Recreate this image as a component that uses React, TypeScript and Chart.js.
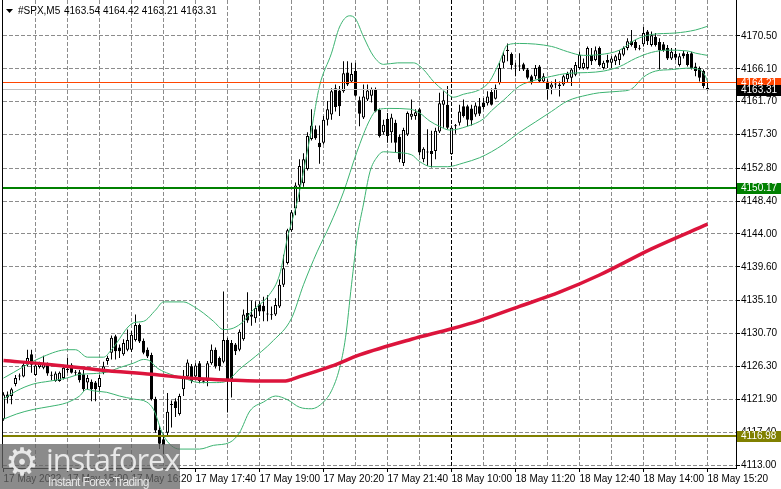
import React, { useEffect, useRef } from 'react';
import { Chart, registerables } from 'chart.js';
Chart.register(...registerables);

// ---------- DATA ----------
const SYMBOL = '#SPX,M5';
const TIME_LABELS = ['17 May 2022', '17 May 15:00', '17 May 16:20', '17 May 17:40', '17 May 19:00', '17 May 20:20', '17 May 21:40', '18 May 10:00', '18 May 11:20', '18 May 12:40', '18 May 14:00', '18 May 15:20'];
const PRICE_TICKS = [4113.0, 4117.4, 4121.9, 4126.3, 4130.7, 4135.1, 4139.6, 4144.0, 4148.4, 4152.8, 4157.3, 4161.7, 4166.1, 4170.5];
const SEPARATOR_BAR = 112;
const OLIVE_LEVEL = 4116.98;
const GREEN_LEVEL = 4150.17;
const ASK_LEVEL = 4164.21;
const BID_LEVEL = 4163.31;

const OPEN = [
  4119.2, 4122.5, 4122.3, 4123.9, 4124.9, 4124.9, 4126.5, 4127.9, 4125.1, 4126.2,
  4126.1, 4126.6, 4125.1, 4124.3, 4124.3, 4124.7, 4125.8, 4126.5, 4125.5, 4125.5,
  4125.2, 4124.1, 4124.2, 4124.1, 4123.5, 4125.4, 4127.0, 4128.1, 4130.3, 4128.8,
  4127.9, 4128.5, 4128.5, 4129.8, 4131.8, 4129.7, 4128.5, 4127.8, 4121.9, 4117.8,
  4116.5, 4117.4, 4121.1, 4121.6, 4119.9, 4123.2, 4124.9, 4126.3, 4124.9, 4126.7,
  4124.3, 4124.3, 4126.7, 4128.5, 4127.4, 4126.9, 4129.8, 4129.4, 4129.2, 4128.5,
  4129.9, 4133.4, 4133.2, 4132.7, 4134.6, 4134.4, 4133.2, 4133.1, 4133.2, 4134.3,
  4137.2, 4140.1, 4144.5, 4147.4, 4150.5, 4150.8, 4152.7, 4156.7, 4158.0, 4156.2,
  4156.2, 4159.3, 4160.0, 4163.5, 4163.2, 4163.1, 4165.6, 4164.4, 4165.8, 4161.9,
  4159.6, 4162.0, 4162.5, 4163.4, 4160.6, 4157.6, 4159.4, 4157.6, 4158.9, 4157.0,
  4153.5, 4157.3, 4159.7, 4159.8, 4160.7, 4154.0, 4155.0, 4155.1, 4155.1, 4157.7,
  4161.3, 4161.3, 4154.7, 4158.4, 4158.9, 4161.1, 4161.1, 4160.8, 4160.0, 4161.1,
  4161.6, 4161.5, 4163.0, 4162.1, 4164.2, 4166.9, 4168.6, 4168.1, 4166.5, 4166.4,
  4166.7, 4166.0, 4165.1, 4165.1, 4166.4, 4164.4, 4164.4, 4163.6, 4164.0, 4164.0,
  4164.0, 4164.7, 4164.9, 4165.3, 4166.2, 4166.2, 4166.2, 4168.0, 4167.3, 4168.9,
  4166.2, 4167.3, 4166.9, 4167.1, 4167.3, 4168.0, 4168.9, 4169.8, 4169.7, 4168.9,
  4169.4, 4171.1, 4169.3, 4170.4, 4169.7, 4169.4, 4168.9, 4167.5, 4168.1, 4166.6,
  4168.2, 4168.1, 4168.2, 4166.4, 4166.2, 4165.8, 4163.54
];
const HIGH = [
  4122.8, 4122.9, 4123.4, 4125.1, 4125.3, 4127.0, 4128.5, 4128.5, 4126.7, 4126.9,
  4127.7, 4126.8, 4125.6, 4125.6, 4125.6, 4126.5, 4127.4, 4126.7, 4125.8, 4125.8,
  4125.8, 4125.1, 4124.5, 4124.3, 4125.1, 4126.9, 4127.7, 4130.4, 4130.5, 4129.2,
  4129.9, 4131.2, 4131.0, 4133.2, 4132.0, 4130.0, 4128.8, 4128.1, 4122.2, 4118.3,
  4117.2, 4122.7, 4121.7, 4122.0, 4122.6, 4125.8, 4127.2, 4126.6, 4126.7, 4127.0,
  4124.7, 4127.0, 4129.2, 4128.8, 4127.6, 4136.3, 4130.1, 4129.8, 4129.4, 4131.2,
  4133.9, 4136.2, 4135.1, 4135.0, 4135.0, 4135.6, 4135.8, 4134.3, 4135.4, 4137.9,
  4141.2, 4144.7, 4147.2, 4150.9, 4154.0, 4154.8, 4157.6, 4160.7, 4158.5, 4158.5,
  4159.8, 4161.8, 4163.5, 4164.0, 4163.8, 4167.1, 4167.1, 4166.9, 4166.9, 4162.4,
  4164.0, 4164.0, 4163.6, 4163.6, 4160.8, 4159.3, 4160.2, 4160.1, 4159.3, 4157.3,
  4158.2, 4160.4, 4162.0, 4160.7, 4160.9, 4155.6, 4158.0, 4157.8, 4158.2, 4162.9,
  4163.1, 4163.8, 4158.5, 4158.7, 4161.3, 4162.0, 4161.3, 4161.3, 4161.6, 4162.2,
  4162.2, 4163.1, 4163.5, 4164.0, 4166.9, 4168.4, 4169.5, 4168.3, 4166.9, 4168.2,
  4166.9, 4166.2, 4165.3, 4166.6, 4166.6, 4165.5, 4164.7, 4164.4, 4164.7, 4164.4,
  4165.3, 4165.7, 4166.2, 4167.0, 4168.4, 4167.5, 4169.1, 4168.9, 4169.1, 4169.1,
  4167.2, 4168.0, 4167.8, 4168.0, 4168.6, 4169.1, 4170.2, 4171.3, 4170.0, 4169.3,
  4171.7, 4171.3, 4171.1, 4170.9, 4170.2, 4169.7, 4169.3, 4168.9, 4168.9, 4168.2,
  4168.5, 4168.4, 4168.4, 4166.9, 4166.4, 4166.0, 4164.42
];
const LOW = [
  4119.0, 4121.3, 4121.2, 4123.6, 4124.4, 4124.8, 4126.3, 4125.4, 4125.0, 4126.0,
  4125.9, 4125.0, 4124.4, 4124.2, 4124.2, 4124.5, 4125.4, 4125.3, 4125.0, 4124.1,
  4123.0, 4123.2, 4121.6, 4121.6, 4123.0, 4125.2, 4126.5, 4127.2, 4127.2, 4127.4,
  4127.7, 4128.3, 4128.2, 4129.6, 4129.4, 4127.9, 4127.4, 4121.7, 4117.4, 4115.2,
  4114.5, 4117.0, 4118.1, 4119.5, 4119.7, 4122.3, 4124.7, 4124.0, 4124.6, 4124.0,
  4124.0, 4123.6, 4126.5, 4126.0, 4125.7, 4126.7, 4120.1, 4122.1, 4127.8, 4128.3,
  4129.7, 4132.1, 4131.7, 4132.1, 4133.0, 4132.3, 4132.3, 4132.5, 4133.0, 4134.1,
  4136.9, 4139.9, 4144.3, 4146.5, 4148.3, 4150.3, 4152.5, 4156.5, 4156.6, 4153.4,
  4156.0, 4158.5, 4159.3, 4160.4, 4159.8, 4162.9, 4163.8, 4164.2, 4162.4, 4158.4,
  4159.4, 4161.8, 4161.6, 4160.3, 4156.9, 4157.3, 4156.2, 4156.2, 4154.9, 4153.6,
  4153.1, 4157.1, 4159.3, 4159.3, 4154.5, 4153.6, 4153.1, 4152.9, 4154.0, 4157.5,
  4158.2, 4158.0, 4154.6, 4157.4, 4158.5, 4159.6, 4158.4, 4158.5, 4159.7, 4159.8,
  4160.7, 4161.2, 4161.2, 4162.0, 4164.0, 4166.2, 4167.1, 4166.0, 4165.1, 4165.8,
  4165.8, 4164.7, 4164.0, 4164.7, 4164.2, 4164.2, 4162.0, 4162.7, 4163.5, 4162.4,
  4163.8, 4164.2, 4163.8, 4165.1, 4166.0, 4166.0, 4166.0, 4166.6, 4167.1, 4166.4,
  4166.0, 4166.2, 4166.2, 4166.6, 4166.6, 4167.8, 4168.6, 4169.1, 4168.6, 4168.6,
  4169.1, 4169.3, 4169.1, 4169.1, 4166.0, 4168.4, 4167.3, 4167.3, 4167.3, 4166.4,
  4167.5, 4166.4, 4166.0, 4165.1, 4164.4, 4163.5, 4163.21
];
const CLOSE = [
  4122.5, 4122.1, 4123.2, 4124.7, 4125.0, 4126.5, 4127.4, 4126.5, 4126.4, 4126.7,
  4126.7, 4125.3, 4125.0, 4125.3, 4125.4, 4126.1, 4125.9, 4125.4, 4125.4, 4124.4,
  4123.2, 4124.7, 4123.2, 4123.2, 4124.7, 4126.3, 4127.4, 4130.1, 4128.3, 4128.3,
  4129.4, 4129.8, 4130.5, 4131.8, 4129.6, 4128.1, 4127.6, 4121.9, 4117.7, 4115.9,
  4115.7, 4120.2, 4121.2, 4120.7, 4122.3, 4125.0, 4126.8, 4124.3, 4126.4, 4124.3,
  4124.2, 4126.7, 4128.5, 4126.3, 4126.3, 4129.8, 4124.3, 4124.5, 4128.3, 4130.9,
  4133.2, 4132.4, 4132.9, 4134.1, 4133.6, 4133.6, 4133.3, 4133.2, 4134.5, 4137.2,
  4139.4, 4144.5, 4146.9, 4150.5, 4153.1, 4154.0, 4157.1, 4158.5, 4156.8, 4155.6,
  4159.3, 4160.7, 4163.1, 4161.0, 4161.1, 4165.5, 4164.0, 4165.4, 4162.5, 4160.1,
  4162.4, 4163.2, 4163.4, 4160.4, 4157.1, 4158.6, 4157.1, 4159.6, 4156.2, 4154.0,
  4157.9, 4160.2, 4160.1, 4160.3, 4154.9, 4155.4, 4154.9, 4154.7, 4157.8, 4161.5,
  4161.9, 4158.2, 4158.2, 4158.5, 4160.4, 4159.8, 4159.3, 4159.2, 4161.2, 4160.1,
  4161.0, 4162.4, 4161.3, 4163.5, 4166.2, 4168.0, 4168.5, 4166.6, 4166.4, 4166.5,
  4166.0, 4164.9, 4164.2, 4166.2, 4164.4, 4165.1, 4163.3, 4164.0, 4164.1, 4163.8,
  4165.1, 4165.4, 4166.0, 4166.6, 4168.0, 4166.9, 4168.9, 4167.1, 4168.6, 4166.6,
  4166.9, 4166.9, 4167.5, 4167.8, 4168.2, 4168.9, 4169.8, 4169.3, 4168.9, 4168.8,
  4170.9, 4169.8, 4170.6, 4169.3, 4168.6, 4168.6, 4167.5, 4168.4, 4167.6, 4167.8,
  4167.8, 4166.6, 4166.2, 4165.8, 4164.9, 4163.8, 4163.31
];

// indicator readings: [bar index, price]
const MA_LINE: [number, number][] = [
  [0, 4127.05], [12, 4126.5], [24, 4125.8], [37, 4125.2], [49, 4124.6], [58, 4124.4], [64, 4124.3],
  [70, 4124.3], [74, 4124.9], [82, 4126.3], [89, 4127.8], [102, 4129.9], [112, 4131.3], [119, 4132.4],
  [129, 4134.3], [139, 4136.2], [149, 4138.5], [162, 4142.0], [176, 4145.3]
];
const BB_UPPER: [number, number][] = [
  [0, 4124.7], [10, 4127.6], [16, 4128.5], [18, 4128.5], [21, 4127.5], [25, 4127.5], [27, 4128.5],
  [32.5, 4132.1], [35, 4132.3], [38, 4133.8], [40, 4134.9], [45, 4134.9], [47.5, 4134.3], [50, 4133.4],
  [52.5, 4132.3], [55, 4131.2], [57.5, 4131.4], [60, 4132.3], [62, 4133.6], [66.5, 4135.9], [69, 4138.5],
  [71, 4143.5], [73.5, 4148.5], [77, 4158.0], [79, 4163.8], [82, 4168.2], [84, 4171.7], [86.5, 4173.2],
  [88, 4172.8], [90, 4170.4], [92.5, 4167.8], [95, 4166.7], [98.5, 4166.9], [102.5, 4166.9], [105, 4166.0],
  [107.5, 4164.4], [110, 4163.2], [112.5, 4162.3], [115, 4162.7], [119, 4163.3], [121.5, 4164.4],
  [124, 4167.0], [126, 4169.3], [129, 4169.5], [137, 4169.1], [141, 4168.4], [145, 4167.9], [149, 4168.0],
  [154, 4168.6], [158, 4170.0], [162, 4170.7], [168, 4170.9], [173, 4171.3], [176, 4171.8]
];
const BB_MIDDLE: [number, number][] = [
  [0, 4121.9], [3.3, 4123.0], [7.4, 4123.9], [11.6, 4124.3], [15.8, 4124.7], [19, 4125.2], [22.4, 4125.3],
  [25.8, 4125.5], [29, 4126.1], [32.5, 4126.7], [35, 4127.2], [36.6, 4127.0], [38.3, 4126.1], [40.8, 4125.4],
  [45, 4124.7], [49, 4124.1], [53.3, 4124.1], [55.8, 4124.3], [57.4, 4125.0], [59, 4125.9], [61.6, 4127.0],
  [67.5, 4129.75], [72, 4132.7], [75, 4137.2], [78.4, 4141.6], [81.6, 4145.2], [85, 4149.6], [88.3, 4154.9],
  [91.6, 4159.3], [93.4, 4160.6], [96.6, 4160.8], [101.6, 4160.7], [104, 4160.2], [106.6, 4159.1],
  [109, 4158.4], [111.6, 4157.9], [115.9, 4158.4], [120, 4159.4], [122, 4160.5], [125, 4161.9],
  [129, 4163.8], [133, 4164.6], [137, 4165.1], [141, 4165.5], [146, 4165.6], [150, 4165.8], [154, 4166.4],
  [158, 4167.5], [162, 4168.3], [166, 4168.6], [171, 4168.5], [173, 4168.2], [176, 4167.9]
];
const BB_LOWER: [number, number][] = [
  [0, 4119.2], [3.3, 4119.9], [7.4, 4120.5], [11.6, 4120.9], [15.8, 4121.4], [19, 4122.3], [20.8, 4123.2],
  [22.4, 4123.0], [25.8, 4122.8], [29, 4122.3], [32.5, 4121.9], [35.8, 4121.5], [37.5, 4120.5], [40, 4117.0],
  [44, 4115.2], [49, 4115.2], [52.5, 4115.7], [56.6, 4116.1], [59, 4117.4], [61.6, 4120.3], [65, 4121.5],
  [68, 4122.3], [71, 4121.8], [74, 4120.8], [77, 4120.6], [80, 4121.5], [82, 4123.0], [84, 4126.0],
  [85.5, 4130.1], [87, 4137.2], [88.5, 4143.8], [90, 4148.0], [91.6, 4152.3], [93.4, 4154.3], [95, 4155.0],
  [98, 4154.9], [102, 4154.6], [104, 4153.7], [107, 4153.0], [111, 4153.0], [115, 4153.5], [119, 4154.2],
  [122, 4155.0], [125, 4156.0], [129, 4157.6], [133, 4159.0], [137, 4160.4], [141, 4161.8], [146, 4162.6],
  [149, 4162.9], [154, 4163.1], [157, 4163.4], [160, 4165.0], [163, 4165.8], [167, 4166.0], [171, 4166.2],
  [174, 4166.0], [175.5, 4165.1], [176, 4164.4]
];

// ---------- LAYOUT ----------
const W = 781;
const H = 489;
const PLOT_LEFT = 3;
const AXIS_W = 45;
const AXIS_H = 21;
const BAR_PX = 4;
const X_MIN = -0.125;
const X_MAX = X_MIN + (W - AXIS_W - PLOT_LEFT) / BAR_PX;
const PX_PER_POINT = 7.47;
const Y_MIN = 4113.0 - 2.5 / PX_PER_POINT;
const Y_MAX = Y_MIN + (H - AXIS_H) / PX_PER_POINT;
const FONT = '"Liberation Sans", Arial, sans-serif';

const pts = (a: [number, number][]) => a.map(([x, y]) => ({ x, y }));

export default function App() {
  const ref = useRef<HTMLCanvasElement>(null);
  useEffect(() => {
    const canvas = ref.current;
    if (!canvas) return;
    const n = OPEN.length;
    const idx = OPEN.map((_, i) => i);
    const bodies = idx.map((i) => {
      const lo = Math.min(OPEN[i], CLOSE[i]);
      let hi = Math.max(OPEN[i], CLOSE[i]);
      if (hi - lo < 0.14) hi = lo + 0.14;
      return { x: i, y: [lo, hi] };
    });
    const wicks = idx.map((i) => ({
      x: i,
      y: [Math.min(LOW[i], OPEN[i], CLOSE[i]), Math.max(HIGH[i], OPEN[i], CLOSE[i])],
    }));
    const gridBars: number[] = [];
    for (let b = 0; b <= n - 1; b += 8) gridBars.push(b);

    const dashH = (ctx: any, x0: number, x1: number, y: number) => {
      for (let x = x0; x < x1; x += 6) ctx.fillRect(x, y, Math.min(4, x1 - x), 1);
    };
    const dashV = (ctx: any, x: number, y0: number, y1: number) => {
      for (let y = y0; y < y1; y += 6) ctx.fillRect(x, y, 1, Math.min(4, y1 - y));
    };

    const overlay = {
      id: 'mt4overlay',
      beforeDatasetsDraw(chart: any) {
        const { ctx, chartArea: a, scales } = chart;
        ctx.save();
        ctx.globalAlpha = 1;
        ctx.fillStyle = 'rgb(140,140,140)';
        for (const b of gridBars) {
          if (b === 0) continue;
          const gx = Math.floor(scales.x.getPixelForValue(b));
          dashV(ctx, gx, 0, 468);
        }
        for (const v of PRICE_TICKS) {
          const gy = Math.floor(scales.y.getPixelForValue(v));
          dashH(ctx, 3, 736, gy);
        }
        ctx.fillStyle = 'rgb(0,0,0)';
        const sx = Math.floor(scales.x.getPixelForValue(SEPARATOR_BAR));
        dashV(ctx, sx, 0, 468);
        ctx.restore();
      },
      afterDatasetsDraw(chart: any) {
        const { ctx, chartArea: a, scales } = chart;
        ctx.save();
        ctx.beginPath();
        ctx.rect(a.left, a.top, a.right - a.left, a.bottom - a.top);
        ctx.clip();
        const hline = (v: number, color: string, w: number) => {
          const py = Math.round(scales.y.getPixelForValue(v) - w / 2);
          ctx.fillStyle = color;
          ctx.fillRect(a.left, py, a.right - a.left, w);
        };
        hline(OLIVE_LEVEL, '#808000', 2);
        hline(GREEN_LEVEL, '#008000', 2);
        hline(BID_LEVEL, '#c0c0c0', 1);
        hline(ASK_LEVEL, '#ff4500', 1);
        ctx.restore();
      },
      afterDraw(chart: any) {
        const { ctx, chartArea: a, scales } = chart;
        ctx.save();
        ctx.fillStyle = '#000';
        ctx.fillRect(2, Math.round(a.top), 1, Math.round(a.bottom - a.top));
        for (const v of PRICE_TICKS) {
          const gy = Math.floor(scales.y.getPixelForValue(v));
          ctx.fillRect(Math.round(a.right), gy, 4, 1);
        }
        for (const b of gridBars) {
          if (b % 16 !== 0) continue;
          const gx = Math.floor(scales.x.getPixelForValue(b));
          ctx.fillRect(gx, Math.round(a.bottom), 1, 4);
        }
        const box = (v: number, bg: string) => {
          const py = Math.round(scales.y.getPixelForValue(v));
          ctx.fillStyle = bg;
          ctx.fillRect(a.right + 1, py - 5, W - a.right - 1, 11);
          ctx.fillStyle = '#fff';
          ctx.font = `10px ${FONT}`;
          ctx.textBaseline = 'middle';
          ctx.textAlign = 'left';
          ctx.fillText(v.toFixed(2), a.right + 5, py + 0.5);
        };
        box(OLIVE_LEVEL, '#808000');
        box(GREEN_LEVEL, '#008000');
        box(ASK_LEVEL, '#ff4500');
        box(BID_LEVEL, '#000000');
        ctx.fillStyle = '#000';
        ctx.beginPath();
        ctx.moveTo(6, 9);
        ctx.lineTo(13, 9);
        ctx.lineTo(9.5, 13);
        ctx.closePath();
        ctx.fill();
        ctx.font = `10px ${FONT}`;
        ctx.textBaseline = 'alphabetic';
        ctx.textAlign = 'left';
        ctx.fillText(SYMBOL, 18, 14);
        const last = n - 1;
        ctx.fillText(
          [OPEN[last], HIGH[last], LOW[last], CLOSE[last]].map((v) => v.toFixed(2)).join(' '),
          64,
          14
        );
        ctx.restore();
      },
    };

    const chart = new Chart(canvas, {
      type: 'bar',
      data: {
        datasets: [
          {
            type: 'line', data: pts(MA_LINE), borderColor: '#DC143C', borderWidth: 3.5,
            pointRadius: 0, cubicInterpolationMode: 'monotone', fill: false,
          } as any,
          {
            type: 'line', data: pts(BB_UPPER), borderColor: '#3CB371', borderWidth: 1,
            pointRadius: 0, cubicInterpolationMode: 'monotone', fill: false,
          } as any,
          {
            type: 'line', data: pts(BB_MIDDLE), borderColor: '#3CB371', borderWidth: 1,
            pointRadius: 0, cubicInterpolationMode: 'monotone', fill: false,
          } as any,
          {
            type: 'line', data: pts(BB_LOWER), borderColor: '#3CB371', borderWidth: 1,
            pointRadius: 0, cubicInterpolationMode: 'monotone', fill: false,
          } as any,
          {
            type: 'bar', data: bodies,
            backgroundColor: idx.map((i) => (CLOSE[i] >= OPEN[i] ? '#ffffff' : '#000000')),
            borderColor: '#000000', borderWidth: 1, borderSkipped: false,
            barThickness: 3, grouped: false, inflateAmount: 0,
          } as any,
          {
            type: 'bar', data: wicks, backgroundColor: '#000000', borderWidth: 0,
            barThickness: 1, grouped: false, inflateAmount: 0,
          } as any,
        ],
      },
      options: {
        responsive: false,
        animation: false,
        events: [],
        devicePixelRatio: 1,
        layout: { padding: { left: PLOT_LEFT, right: 0, top: 0, bottom: 0 } },
        plugins: { legend: { display: false }, tooltip: { enabled: false } },
        scales: {
          x: {
            type: 'linear', min: X_MIN, max: X_MAX, offset: false, bounds: 'data',
            afterBuildTicks: (s: any) => { s.ticks = gridBars.map((v) => ({ value: v })); },
            afterFit: (s: any) => { s.height = AXIS_H; s.paddingLeft = 0; s.paddingRight = 0; },
            grid: { display: false, offset: false, drawTicks: true, tickLength: 4 },
            border: { display: true, color: '#000000', width: 1 },
            ticks: {
              autoSkip: false, maxRotation: 0, minRotation: 0, align: 'start', padding: 1,
              color: '#000000', font: { family: FONT, size: 10 },
              callback: (v: any) => {
                const k = Number(v);
                return k % 16 === 0 ? TIME_LABELS[k / 16] ?? '' : '';
              },
            },
          } as any,
          y: {
            type: 'linear', position: 'right', min: Y_MIN, max: Y_MAX, beginAtZero: false, bounds: 'data',
            afterBuildTicks: (s: any) => { s.ticks = PRICE_TICKS.map((v) => ({ value: v })); },
            afterFit: (s: any) => { s.width = AXIS_W; s.paddingTop = 0; s.paddingBottom = 0; },
            grid: { display: false, drawTicks: true, tickLength: 4 },
            border: { display: true, color: '#000000', width: 1 },
            ticks: {
              autoSkip: false, padding: 1, color: '#000000', font: { family: FONT, size: 10 },
              callback: (v: any) => Number(v).toFixed(2),
            },
          } as any,
        },
      } as any,
      plugins: [overlay],
    });
    return () => chart.destroy();
  }, []);

  return (
    <div style={{ position: 'fixed', left: 0, top: 0, width: W, height: H, background: '#ffffff', overflow: 'hidden' }}>
      <canvas ref={ref} width={W} height={H} style={{ display: 'block', width: W, height: H }} />
      <div
        style={{
          position: 'absolute', left: 0, top: 444, width: 180, height: 45,
          background: 'rgba(100,100,100,0.75)', overflow: 'hidden', color: '#e8e8e8',
        }}
      >
        <div style={{ position: 'absolute', left: 5, top: -4, fontSize: 38, lineHeight: '44px', fontFamily: '"DejaVu Sans", sans-serif' }}>⚙</div>
        <div style={{ position: 'absolute', left: 46, top: -3, fontSize: 31, lineHeight: '36px', letterSpacing: -1.2, fontFamily: '"Open Sans", "DejaVu Sans", sans-serif' }}>instaforex</div>
        <div style={{ position: 'absolute', left: 48, top: 31, fontSize: 12, lineHeight: '14px', letterSpacing: -0.6, fontFamily: '"Liberation Sans", Arial, sans-serif' }}>Instant Forex Trading</div>
      </div>
    </div>
  );
}
